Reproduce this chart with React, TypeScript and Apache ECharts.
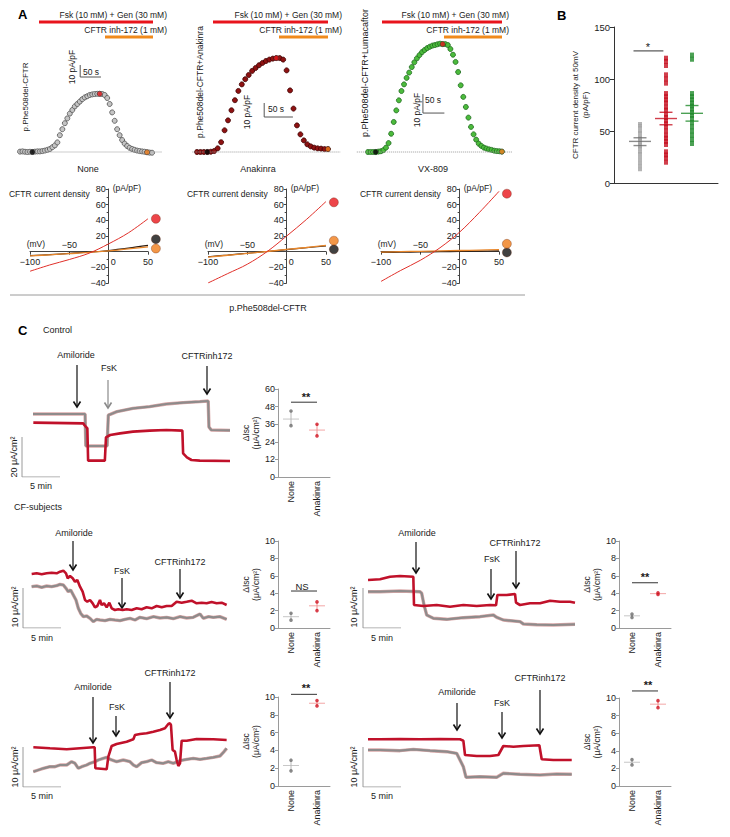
import React, { useEffect, useRef } from "react";
import * as echarts from "echarts";

const FONT = "'Liberation Sans', Arial, Helvetica, sans-serif";
const ROT = Math.PI / 2;

// ================= Panel A (top): current-density time courses (pA/pF), one sample every 6 s
const SAMPLE_S = 6;
const courseNone = [0.3, 0.5, 0.2, 0, 0.2, 0, 0.3, 0.5, 0.5, 0.8, 1.2, 1.8, 2.5, 4, 5.5, 8, 14, 19, 24, 28, 32, 35, 38, 40, 42, 44, 45.5, 46.5, 47.5, 48, 48.3, 48.5, 48.5, 48.3, 47.5, 45, 40, 33, 26, 19, 14, 10, 7, 5, 3.5, 2.5, 1.8, 1.2, 0.8, 0.5, 0.2, -0.2, -0.5, -0.6];
const courseAnakinra = [0, 0, 0, 0, 0.2, 0.7, 2.6, 7, 15.5, 22.6, 29.8, 37, 43.6, 48.3, 52, 55, 57.9, 60, 62, 63.6, 65, 66, 66.7, 67.1, 67.1, 66, 58.3, 44, 31, 19, 12.6, 8.3, 5.5, 4, 3.1, 2.6, 2.4, 2.1, 2.1];
const courseVX809 = [0, 0, 0, 0, 0.2, 0.4, 1, 2.3, 4.7, 9.6, 15.8, 21.9, 27.2, 32.1, 35.6, 39, 41.8, 44.7, 47.2, 49.3, 51, 52.6, 53.7, 54.7, 55.4, 56, 56.3, 56.7, 57, 56.8, 56.8, 56.3, 54.2, 51.2, 47.4, 42.1, 35.1, 29, 23.7, 18.1, 13.2, 9.3, 6.5, 4.4, 3.2, 2.3, 1.8, 1.4, 1.1, 0.7, 0.5, 0.4, 0.2];
// highlighted samples: [baseline (black), peak (red), after inhibitor (orange)]
const markNone = [5, 32, 51];
const markAnakinra = [3, 23, 38];
const markVX809 = [3, 29, 52];
// scale bars: 50 s x 10 pA/pF
const scaleNone = [[145, 72.5], [145, 62.5], [195, 62.5]];
const scaleAnakinra = [[117, 35], [117, 25], [167, 25]];
const scaleVX809 = [[128, 30.5], [128, 20.5], [178, 20.5]];

// ================= Panel A (bottom): I-V relations (mV, pA/pF)
const ivVoltage = [-100, -75, -50, -25, 0, 25, 50];
const ivNoneRed = [-25, -17, -10, -2, 10, 24, 42];
const ivNoneBlack = [-5, -3.8, -2.2, -0.7, 1.5, 4.5, 8];
const ivNoneOrange = [-5.5, -4, -2.5, -1, 1, 3.5, 6];
const ivAnakRed = [-40, -28, -16, 0, 20, 41, 64];
const ivAnakBlack = [-6.5, -4.3, -2, 0.2, 2.6, 5, 7.5];
const ivAnakOrange = [-7, -4.6, -2.2, 0.2, 2.8, 5.3, 8];
const ivVXRed = [-38, -24, -11, 5, 25, 50, 77];
const ivVXBlack = [-1, -0.7, -0.3, 0, 0.3, 0.7, 1];
const ivVXOrange = [-0.5, 0, 0.5, 1, 1.5, 2, 2.5];
const ivDotVoltage = 60;
const ivDotsNone = [42, 16, 4]; // red, black, orange
const ivDotsAnak = [63, 3, 14];
const ivDotsVX = [74, -1, 10];

// ================= Panel B: CFTR current density at 50 mV (pA/pF)
const bGroupPos = [1, 2, 3];
const bNone = [57, 55, 53, 50, 48, 45, 43, 41, 39, 37, 35, 33, 30, 28, 25, 22, 19, 16, 13];
const bAnakinra = [120, 117, 113, 104, 100, 96, 86, 83, 80, 77, 73, 70, 66, 63, 60, 57, 54, 50, 46, 43, 40, 37, 30, 27, 24, 20];
const bVX809 = [123, 119, 86, 83, 80, 77, 74, 71, 68, 65, 62, 58, 54, 50, 46, 42, 38];
const bMeans = [40, 62, 67];
const bSemHigh = [43.5, 68, 74.5];
const bSemLow = [36, 56, 59.5];
const bSig = [[0.75, 127], [1.9, 127]];

// ================= Panel C: short-circuit current traces (min, µA/cm²)
const ctrlGray = [[1.45, 31.5], [8.3, 31.5], [8.4, 15.5], [11.2, 15.5], [11.36, 31.0], [11.6, 31.3], [12.5, 32.7], [14.6, 34.3], [16.8, 35.2], [19.0, 36.5], [21.2, 37.2], [23.4, 37.7], [24.5, 38.0], [24.6, 25.0], [24.9, 23.5], [27.37, 23.3]];
const ctrlRed = [[1.49, 27.2], [8.07, 26.8], [8.2, 26.0], [8.6, 24.3], [8.7, 8.2], [10.9, 8.2], [11.05, 19.8], [11.6, 21.0], [12.9, 21.8], [14.6, 22.7], [16.8, 23.2], [19.0, 23.5], [21.1, 23.2], [21.2, 11.8], [21.7, 9.8], [22.3, 8.5], [23.4, 8.2], [27.37, 8.0]];
const cf1Red = [[1.14, 13.5], [1.8, 13.67], [2.46, 13.42], [3.11, 13.67], [3.77, 13.83], [4.43, 13.67], [4.87, 14.08], [5.31, 14.33], [5.66, 13.67], [5.88, 12.42], [6.18, 13.0], [6.54, 12.42], [6.84, 11.58], [7.15, 12.0], [7.5, 10.33], [7.85, 9.08], [8.16, 7.0], [8.46, 6.58], [8.82, 7.0], [9.17, 6.17], [9.47, 5.17], [9.78, 5.5], [10.13, 7.0], [10.35, 5.75], [10.66, 6.17], [11.01, 5.17], [11.36, 6.33], [11.67, 4.92], [12.1, 4.5], [12.54, 4.67], [13.11, 4.5], [13.64, 4.67], [14.3, 4.5], [14.96, 4.92], [15.61, 4.67], [16.27, 5.17], [16.93, 4.92], [17.59, 5.5], [18.25, 5.17], [18.9, 5.5], [19.56, 5.5], [20.22, 6.58], [20.88, 6.33], [21.54, 6.58], [22.19, 6.83], [22.85, 6.17], [23.51, 6.33], [24.17, 6.17], [24.82, 6.5], [25.48, 6.17], [26.14, 6.33], [26.8, 5.75]];
const cf1Gray = [[1.14, 10.33], [1.8, 10.5], [2.46, 10.17], [3.11, 10.5], [3.77, 10.33], [4.43, 10.58], [4.87, 10.92], [5.31, 10.75], [5.66, 9.92], [5.96, 9.08], [6.27, 9.5], [6.62, 8.25], [6.97, 7.0], [7.28, 4.92], [7.59, 3.67], [7.94, 2.83], [8.38, 3.0], [8.82, 2.42], [9.25, 1.58], [9.69, 2.17], [10.13, 2.0], [10.79, 1.83], [11.45, 2.17], [12.1, 2.0], [12.76, 1.83], [13.42, 2.17], [14.08, 2.42], [14.74, 2.0], [15.39, 2.67], [16.27, 2.33], [17.15, 2.83], [18.03, 2.5], [18.9, 2.67], [19.78, 2.33], [20.66, 2.83], [21.54, 2.5], [22.41, 2.67], [23.29, 3.5], [23.73, 2.42], [24.39, 2.83], [25.05, 2.67], [25.92, 2.83], [26.8, 2.17]];
const cf2Red = [[0.66, 12.0], [2.24, 12.17], [3.55, 12.83], [4.87, 13.0], [6.62, 12.83], [6.71, 5.75], [7.94, 5.5], [9.69, 5.75], [11.45, 5.33], [13.2, 5.75], [14.96, 5.5], [16.71, 5.75], [17.5, 5.67], [17.68, 8.25], [18.9, 8.25], [20.0, 8.5], [20.13, 6.33], [20.66, 5.75], [21.97, 6.17], [23.29, 6.17], [24.61, 6.83], [25.92, 6.58], [27.24, 6.58], [27.89, 6.33]];
const cf2Gray = [[0.66, 9.08], [2.24, 9.08], [4.87, 9.25], [7.5, 9.08], [7.72, 8.67], [8.03, 5.75], [8.38, 3.25], [9.25, 2.42], [11.01, 2.17], [13.2, 2.58], [15.39, 2.83], [17.15, 3.25], [17.59, 2.67], [18.46, 2.0], [20.66, 1.58], [21.1, 1.0], [22.85, 0.83], [25.04, 0.75], [27.89, 0.92]];
const cf3Red = [[1.36, 9.92], [3.55, 9.67], [5.75, 9.42], [7.5, 9.67], [9.25, 9.92], [9.43, 9.92], [9.52, 4.67], [11.01, 4.42], [11.23, 7.58], [11.67, 10.25], [12.32, 10.75], [13.64, 11.33], [14.52, 11.92], [14.74, 13.0], [15.39, 13.25], [16.27, 13.42], [17.15, 13.83], [18.03, 14.25], [18.68, 14.67], [19.12, 15.75], [19.34, 15.92], [19.47, 15.5], [19.69, 9.25], [20.0, 8.83], [20.22, 6.75], [20.44, 5.25], [20.66, 5.92], [20.88, 11.58], [21.54, 11.58], [22.85, 12.0], [25.04, 11.92], [26.8, 11.75]];
const cf3Gray = [[1.36, 3.83], [2.02, 4.25], [2.68, 4.67], [3.55, 5.08], [4.21, 5.08], [4.87, 5.5], [5.75, 5.5], [6.4, 6.33], [6.84, 5.92], [7.28, 4.67], [7.72, 5.08], [8.38, 5.5], [8.82, 5.92], [9.47, 6.33], [9.91, 6.75], [10.57, 7.17], [11.01, 7.42], [11.45, 6.92], [12.32, 6.33], [13.2, 6.75], [14.08, 6.33], [14.52, 5.5], [14.96, 5.08], [15.61, 6.08], [16.27, 6.33], [16.93, 6.75], [17.59, 6.08], [18.46, 5.92], [19.12, 6.33], [19.78, 5.92], [20.66, 6.58], [21.54, 6.92], [22.41, 7.17], [23.29, 6.92], [24.17, 7.17], [25.04, 7.42], [25.92, 7.75], [26.45, 8.83], [26.8, 9.67]];
const cf4Red = [[0.66, 11.92], [2.24, 11.92], [4.87, 12.0], [7.5, 11.92], [10.13, 12.0], [12.76, 11.92], [13.2, 11.58], [13.42, 8.0], [14.96, 7.75], [16.71, 7.75], [17.81, 8.0], [18.46, 10.25], [19.78, 10.08], [21.1, 10.25], [23.2, 10.42], [23.51, 6.92], [25.04, 6.75], [27.46, 6.75]];
const cf4Gray = [[0.66, 9.25], [2.24, 9.25], [4.87, 9.08], [6.62, 9.42], [8.82, 9.08], [11.01, 8.83], [12.32, 8.42], [12.76, 6.75], [13.2, 5.08], [13.55, 2.42], [15.39, 2.58], [17.59, 2.42], [18.46, 3.42], [20.66, 3.17], [23.29, 3.0], [25.48, 3.25], [27.46, 3.17]];
const scaleCtrl = [[0, 20], [0, 0], [5, 0]];
const scaleCF = [[0, 10], [0, 0], [5, 0]];

// ================= Panel C: ΔIsc summaries (µA/cm²)
const dotCats = ["None", "Anakinra"];
const ctrlNone = [45, 35];
const ctrlAnak = [36, 28];
const ctrlMeans = [39.5, 32];
const cf1None = [1.7, 0.9];
const cf1Anak = [3.0, 2.0];
const cf1Means = [1.3, 2.55];
const cf2None = [1.6, 1.2];
const cf2Anak = [4.05, 3.85];
const cf2Means = [1.4, 3.95];
const cf3None = [2.9, 1.7];
const cf3Anak = [9.6, 9.0];
const cf3Means = [2.3, 9.3];
const cf4None = [3.0, 2.4];
const cf4Anak = [9.7, 8.9];
const cf4Means = [2.7, 9.3];
const sigLevels = [51, 4.25, 5.2, 10.3, 10.8];

const fmtMinus = (v: number) => String(v).replace("-", "\u2212");

function buildOption() {
  const grids: any[] = [];
  const xAxes: any[] = [];
  const yAxes: any[] = [];
  const series: any[] = [];
  const graphics: any[] = [];

  const addGrid = (left: number, top: number, width: number, height: number) => {
    grids.push({ left, top, width, height, containLabel: false, outerBoundsMode: "none" });
    return grids.length - 1;
  };
  const addX = (ax: any) => { xAxes.push(ax); return xAxes.length - 1; };
  const addY = (ax: any) => { yAxes.push(ax); return yAxes.length - 1; };
  const txt = (text: string, x: number, y: number, o: any = {}) => {
    graphics.push({
      type: "text", x, y, rotation: o.rot || 0, silent: true, z: 10,
      style: {
        text, fill: o.color || "#1a1a1a", fontSize: o.size || 9, fontFamily: FONT,
        fontWeight: o.bold ? "bold" : "normal", align: o.align || "center", verticalAlign: "middle",
      },
    });
  };
  const seg = (x1: number, y1: number, x2: number, y2: number, color: string, w: number) => {
    graphics.push({ type: "line", silent: true, shape: { x1, y1, x2, y2 }, style: { stroke: color, lineWidth: w } });
  };
  const arrow = (x: number, y1: number, y2: number, color = "#111") => {
    seg(x, y1, x, y2 - 1, color, 1.2);
    graphics.push({
      type: "polyline", silent: true,
      shape: { points: [[x - 3.5, y2 - 5.5], [x, y2], [x + 3.5, y2 - 5.5]] },
      style: { stroke: color, lineWidth: 1.6, fill: null },
    });
  };

  // ---------- Panel A: time courses
  const courseChart = (c: any) => {
    const g = addGrid(c.left, c.top, c.width, c.height);
    const xi = addX({ type: "value", gridIndex: g, min: c.xMin, max: c.xMax, show: false });
    const yi = addY({ type: "value", gridIndex: g, min: c.yMin, max: c.yMax, show: false });
    const pts = c.values.map((v: number, i: number) => [i * SAMPLE_S, v]);
    series.push({
      type: "line", xAxisIndex: xi, yAxisIndex: yi, silent: true, symbol: "none",
      data: [[c.xMin, 0], [c.xMax, 0]], lineStyle: { color: "#9a9a9a", width: 1, type: "dotted" },
    });
    series.push({
      type: "scatter", xAxisIndex: xi, yAxisIndex: yi, silent: true, data: pts, symbolSize: 5,
      itemStyle: { color: c.fill, borderColor: c.border, borderWidth: 0.8, opacity: 1 },
    });
    const markColors = ["#000000", "#e8161b", "#f07d1a"];
    c.marks.forEach((idx: number, k: number) => {
      series.push({
        type: "scatter", xAxisIndex: xi, yAxisIndex: yi, silent: true, data: [pts[idx]], symbolSize: 5, z: 3,
        itemStyle: { color: markColors[k], borderColor: "#333", borderWidth: 0.5 },
      });
    });
    series.push({
      type: "line", xAxisIndex: xi, yAxisIndex: yi, silent: true, symbol: "none",
      data: c.scale, lineStyle: { color: "#555", width: 1 },
    });
  };
  courseChart({ left: 17.5, top: 56, width: 144.5, height: 102, xMin: -6, xMax: 342, yMin: -5, yMax: 80, values: courseNone, marks: markNone, scale: scaleNone, fill: "#c4c4c4", border: "#505050" });
  courseChart({ left: 192.4, top: 12, width: 148.2, height: 147, xMin: -8, xMax: 250, yMin: -5, yMax: 100, values: courseAnakinra, marks: markAnakinra, scale: scaleAnakinra, fill: "#8e1212", border: "#3d0000" });
  courseChart({ left: 356.8, top: 28.5, width: 155, height: 133, xMin: -26, xMax: 335, yMin: -5, yMax: 65, values: courseVX809, marks: markVX809, scale: scaleVX809, fill: "#4cbb3c", border: "#1e6a1e" });

  txt("A", 18, 14, { size: 13, bold: true, align: "left", color: "#000" });
  const bars = [[167, 39, 153, 105, 153], [342, 213, 328, 279, 328], [509, 382, 502, 444, 502]];
  bars.forEach(([tr, r1, r2, o1, o2]) => {
    txt("Fsk (10 mM) + Gen (30 mM)", tr, 15, { align: "right", size: 8.5 });
    seg(r1, 22, r2, 22, "#e8141c", 3);
    txt("CFTR inh-172 (1 mM)", tr, 30, { align: "right", size: 8.5 });
    seg(o1, 37, o2, 37, "#f08a1c", 3);
  });
  txt("p.Phe508del-CFTR", 25, 97, { rot: ROT, size: 8 });
  txt("p.Phe508del-CFTR+Anakinra", 200, 82, { rot: ROT, size: 8.5 });
  txt("p.Phe508del-CFTR+Lumacaftor", 365, 73, { rot: ROT, size: 9 });
  txt("10 pA/pF", 72, 67, { rot: ROT, size: 8.5 });
  txt("10 pA/pF", 247, 112, { rot: ROT, size: 8.5 });
  txt("10 pA/pF", 417, 110, { rot: ROT, size: 8.5 });
  txt("50 s", 83, 72, { align: "left", size: 8.5 });
  txt("50 s", 268, 109, { align: "left", size: 8.5 });
  txt("50 s", 425, 100, { align: "left", size: 8.5 });
  txt("None", 88, 169, { size: 9 });
  txt("Anakinra", 258, 169, { size: 9 });
  txt("VX-809", 433, 169, { size: 9 });

  // ---------- Panel A: I-V curves (axes shifted onto the origin with offsets)
  const IV_TOP = 189, IV_H = 94, IV_W = 118;
  const zeroY = IV_TOP + (80 / 120) * IV_H;
  const zeroXOff = (100 / 150) * IV_W;
  const ivChart = (left: number, red: number[], black: number[], orange: number[], dots: number[]) => {
    const g = addGrid(left, IV_TOP, IV_W, IV_H);
    const xIdx = addX({
      type: "value", gridIndex: g, min: -100, max: 50, interval: 50, position: "bottom",
      offset: -(IV_TOP + IV_H - zeroY),
      axisLine: { show: true, onZero: false, lineStyle: { color: "#444", width: 1 } },
      axisTick: { show: true, length: 3, lineStyle: { color: "#444" } },
      axisLabel: {
        fontSize: 9, color: "#222", margin: 6, fontFamily: FONT,
        formatter: (v: number) => (v === -50 ? "" : v === 0 ? "{z|0}" : fmtMinus(v)),
        rich: { z: { fontSize: 9, color: "#222", padding: [0, 0, 0, 9], fontFamily: FONT } },
      },
      splitLine: { show: false },
    });
    addX({
      type: "value", gridIndex: g, min: -100, max: 50, interval: 50, position: "top",
      offset: -(zeroY - IV_TOP),
      axisLine: { show: false, onZero: false },
      axisTick: { show: false },
      axisLabel: { fontSize: 9, color: "#222", margin: 2, fontFamily: FONT, formatter: (v: number) => (v === -50 ? fmtMinus(v) : "") },
      splitLine: { show: false },
    });
    const yIdx = addY({
      type: "value", gridIndex: g, min: -40, max: 80, interval: 20, position: "left",
      offset: -zeroXOff,
      axisLine: { show: true, onZero: false, lineStyle: { color: "#444", width: 1 } },
      axisTick: { show: true, length: 3, lineStyle: { color: "#444" } },
      minorTick: { show: true, splitNumber: 2, length: 2, lineStyle: { color: "#444" } },
      axisLabel: { fontSize: 9, color: "#222", margin: 3, fontFamily: FONT, formatter: (v: number) => (v === 0 ? "" : fmtMinus(v)) },
      splitLine: { show: false }, minorSplitLine: { show: false },
    });
    const curve = (vals: number[], color: string, w: number) => series.push({
      type: "line", xAxisIndex: xIdx, yAxisIndex: yIdx, silent: true, symbol: "none", smooth: 0.35,
      data: ivVoltage.map((v, i) => [v, vals[i]]), lineStyle: { color, width: w },
    });
    curve(black, "#2a1a10", 1.2);
    curve(orange, "#e8862a", 1.3);
    curve(red, "#e0302a", 1);
    const dotColors = ["#e8161b", "#111111", "#f07d1a"];
    dots.forEach((d, k) => series.push({
      type: "scatter", xAxisIndex: xIdx, yAxisIndex: yIdx, silent: true, clip: false, symbolSize: 9,
      data: [[ivDotVoltage, d]], itemStyle: { color: dotColors[k], borderColor: "#5a1a00", borderWidth: 0.4 },
    }));
    const ax = left + zeroXOff;
    txt("CFTR current density", ax - 19, 194, { align: "right", size: 8.5 });
    txt("(pA/pF)", ax + 4, 188, { align: "left", size: 8.5 });
    txt("(mV)", ax - 82, 244, { align: "left", size: 8.5 });
  };
  ivChart(30, ivNoneRed, ivNoneBlack, ivNoneOrange, ivDotsNone);
  ivChart(208, ivAnakRed, ivAnakBlack, ivAnakOrange, ivDotsAnak);
  ivChart(381, ivVXRed, ivVXBlack, ivVXOrange, ivDotsVX);
  seg(10, 295, 525, 295, "#9a9a9a", 1);
  txt("p.Phe508del-CFTR", 268, 308, { size: 9 });

  // ---------- Panel B
  {
    const g = addGrid(614, 27, 104, 156);
    const xi = addX({
      type: "value", gridIndex: g, min: 0, max: 4,
      axisLine: { show: true, onZero: false, lineStyle: { color: "#333", width: 1 } },
      axisTick: { show: false }, axisLabel: { show: false }, splitLine: { show: false },
    });
    const yi = addY({
      type: "value", gridIndex: g, min: 0, max: 150, interval: 50,
      axisLine: { show: true, lineStyle: { color: "#333", width: 1 } },
      axisTick: { show: true, length: 4, lineStyle: { color: "#333" } },
      axisLabel: { fontSize: 9.5, color: "#222", margin: 4, fontFamily: FONT },
      splitLine: { show: false },
      name: "CFTR current density at 50mV\n(pA/pF)", nameLocation: "middle", nameGap: 24, nameRotate: 90,
      nameTextStyle: { fontSize: 8, lineHeight: 10, color: "#222", fontFamily: FONT },
    });
    const groups = [bNone, bAnakinra, bVX809];
    const pointColors = ["#a3a3a3", "#c50f1f", "#1f8a2a"];
    const pointSizes = [[4, 3.5], [4, 5], [4, 5]];
    const meanColors = ["#6e6e6e", "#c50f1f", "#1f8a2a"];
    groups.forEach((vals, k) => {
      series.push({
        type: "scatter", xAxisIndex: xi, yAxisIndex: yi, silent: true, symbol: "rect", symbolSize: pointSizes[k],
        data: vals.map((v) => [bGroupPos[k], v]), itemStyle: { color: pointColors[k] },
      });
      series.push({
        type: "scatter", xAxisIndex: xi, yAxisIndex: yi, silent: true, symbol: "rect", symbolSize: [22, 1.4], z: 4,
        data: [[bGroupPos[k], bMeans[k]]], itemStyle: { color: meanColors[k] },
      });
      series.push({
        type: "scatter", xAxisIndex: xi, yAxisIndex: yi, silent: true, symbol: "rect", symbolSize: [13, 1.4], z: 4,
        data: [[bGroupPos[k], bSemHigh[k]], [bGroupPos[k], bSemLow[k]]], itemStyle: { color: meanColors[k] },
      });
    });
    series.push({
      type: "line", xAxisIndex: xi, yAxisIndex: yi, silent: true, symbol: "none", clip: false,
      data: bSig, lineStyle: { color: "#333", width: 1 },
    });
    txt("B", 557, 15, { size: 13, bold: true, align: "left", color: "#000" });
    txt("*", 648, 47, { size: 11 });
  }

  // ---------- Panel C traces
  const traceChart = (left: number, top: number, width: number, height: number, xMax: number, yMax: number, gray: number[][], red: number[][], scale: number[][]) => {
    const g = addGrid(left, top, width, height);
    const xi = addX({ type: "value", gridIndex: g, min: 0, max: xMax, show: false });
    const yi = addY({ type: "value", gridIndex: g, min: 0, max: yMax, show: false });
    series.push({ type: "line", xAxisIndex: xi, yAxisIndex: yi, silent: true, symbol: "none", data: gray, lineStyle: { color: "#dba9a9", width: 3.4 } });
    series.push({ type: "line", xAxisIndex: xi, yAxisIndex: yi, silent: true, symbol: "none", data: gray, lineStyle: { color: "#8e8b8b", width: 2.2 } });
    series.push({ type: "line", xAxisIndex: xi, yAxisIndex: yi, silent: true, symbol: "none", data: red, lineStyle: { color: "#c0112a", width: 2.6 } });
    series.push({ type: "line", xAxisIndex: xi, yAxisIndex: yi, silent: true, symbol: "none", data: scale, lineStyle: { color: "#9a9a9a", width: 1 } });
  };
  traceChart(22, 377, 208, 100, 27.37, 50, ctrlGray, ctrlRed, scaleCtrl);
  traceChart(23, 564, 207, 64, 27.24, 16, cf1Gray, cf1Red, scaleCF);
  traceChart(363, 564, 212, 64, 27.89, 16, cf2Gray, cf2Red, scaleCF);
  traceChart(23, 715, 207, 72, 27.24, 18, cf3Gray, cf3Red, scaleCF);
  traceChart(363, 723, 212, 64, 27.89, 16, cf4Gray, cf4Red, scaleCF);

  // ---------- Panel C dot plots
  const dotPlot = (left: number, top: number, height: number, max: number, interval: number, none: number[], anak: number[], means: number[], sig: number, nameGap: number) => {
    const g = addGrid(left, top, 52, height);
    const xi = addX({
      type: "category", gridIndex: g, data: dotCats, boundaryGap: true,
      axisLine: { show: true, lineStyle: { color: "#9a9a9a", width: 1 } },
      axisTick: { show: false },
      axisLabel: { rotate: 90, fontSize: 9, color: "#222", margin: 4, fontFamily: FONT, interval: 0 },
      splitLine: { show: false },
    });
    const yi = addY({
      type: "value", gridIndex: g, min: 0, max, interval,
      axisLine: { show: true, lineStyle: { color: "#9a9a9a", width: 1 } },
      axisTick: { show: true, length: 3, lineStyle: { color: "#9a9a9a" } },
      axisLabel: { fontSize: 9, color: "#222", margin: 3, fontFamily: FONT },
      splitLine: { show: false },
      name: "\u0394Isc\n(\u03bcA/cm\u00b2)", nameLocation: "middle", nameGap, nameRotate: 90,
      nameTextStyle: { fontSize: 8.5, lineHeight: 10, color: "#222", fontFamily: FONT },
    });
    const grp = [[none, "#6d6d6d", "#b8b8b8"], [anak, "#d0121f", "#f09090"]] as any[];
    grp.forEach(([vals, pc, mc], k) => {
      const cat = dotCats[k];
      series.push({
        type: "line", xAxisIndex: xi, yAxisIndex: yi, silent: true, symbol: "none",
        data: [[cat, Math.min(...vals)], [cat, Math.max(...vals)]], lineStyle: { color: mc, width: 1 },
      });
      series.push({
        type: "scatter", xAxisIndex: xi, yAxisIndex: yi, silent: true, symbol: "rect", symbolSize: [16, 1], z: 3,
        data: [[cat, means[k]]], itemStyle: { color: mc },
      });
      series.push({
        type: "scatter", xAxisIndex: xi, yAxisIndex: yi, silent: true, symbolSize: 3.6, z: 4,
        data: vals.map((v: number) => [cat, v]), itemStyle: { color: pc },
      });
    });
    series.push({
      type: "line", xAxisIndex: xi, yAxisIndex: yi, silent: true, symbol: "none", clip: false,
      data: [[dotCats[0], sig], [dotCats[1], sig]], lineStyle: { color: "#333", width: 1 },
    });
  };
  dotPlot(278, 389, 88, 60, 12, ctrlNone, ctrlAnak, ctrlMeans, sigLevels[0], 14);
  dotPlot(278, 541, 87, 10, 2, cf1None, cf1Anak, cf1Means, sigLevels[1], 17);
  dotPlot(619, 541, 87, 10, 2, cf2None, cf2Anak, cf2Means, sigLevels[2], 15);
  dotPlot(278, 697, 89, 10, 2, cf3None, cf3Anak, cf3Means, sigLevels[3], 17);
  dotPlot(619, 698, 88, 10, 2, cf4None, cf4Anak, cf4Means, sigLevels[4], 15);
  txt("**", 306, 397, { size: 11, bold: true });
  txt("NS", 302, 586, { size: 9.5 });
  txt("**", 645, 577, { size: 11, bold: true });
  txt("**", 306, 688, { size: 11, bold: true });
  txt("**", 648, 685, { size: 11, bold: true });

  // ---------- Panel C labels and arrows
  txt("C", 18, 330, { size: 13, bold: true, align: "left", color: "#000" });
  txt("Control", 43, 330, { align: "left", size: 9 });
  txt("CF-subjects", 14, 507, { align: "left", size: 9 });
  txt("20 \u03bcA/cm\u00b2", 14, 457, { rot: ROT, size: 9 });
  txt("5 min", 41, 486, { size: 9 });
  [[15, 607, 42, 638], [354, 607, 382, 638], [15, 767, 42, 796], [354, 767, 382, 796]].forEach(([sx, sy, mx, my]) => {
    txt("10 \u03bcA/cm\u00b2", sx, sy, { rot: ROT, size: 9 });
    txt("5 min", mx, my, { size: 9 });
  });
  const rows = [
    { a: [76, 355, 77, 365, 407], f: [109, 368, 108, 380, 408, "#8a8a8a"], c: [207, 356, 207, 366, 394] },
    { a: [74, 533, 73, 541, 570], f: [122, 571, 122, 578, 608, "#111"], c: [180, 562, 180, 569, 598] },
    { a: [417, 533, 416, 542, 573], f: [492, 559, 491, 569, 599, "#111"], c: [515, 543, 516, 551, 588] },
    { a: [93, 687, 93, 697, 743], f: [117, 707, 116, 716, 736, "#111"], c: [170, 673, 170, 682, 718] },
    { a: [457, 692, 457, 703, 730], f: [502, 703, 502, 712, 738, "#111"], c: [540, 678, 540, 690, 734] },
  ] as any[];
  rows.forEach((r) => {
    txt("Amiloride", r.a[0], r.a[1], { size: 9 });
    arrow(r.a[2], r.a[3], r.a[4]);
    txt("FsK", r.f[0], r.f[1], { size: 9 });
    arrow(r.f[2], r.f[3], r.f[4], r.f[5]);
    txt("CFTRinh172", r.c[0], r.c[1], { size: 9 });
    arrow(r.c[2], r.c[3], r.c[4]);
  });

  return {
    animation: false,
    backgroundColor: "#ffffff",
    textStyle: { fontFamily: FONT },
    grid: grids,
    xAxis: xAxes,
    yAxis: yAxes,
    series,
    graphic: { elements: graphics },
  };
}

export default function App() {
  const ref = useRef<HTMLDivElement>(null);
  useEffect(() => {
    document.body.style.margin = "0";
    const chart = echarts.init(ref.current as HTMLDivElement, null, { renderer: "svg", width: 730, height: 837 });
    chart.setOption(buildOption() as any);
    return () => chart.dispose();
  }, []);
  return <div ref={ref} style={{ width: 730, height: 837, background: "#fff" }} />;
}
